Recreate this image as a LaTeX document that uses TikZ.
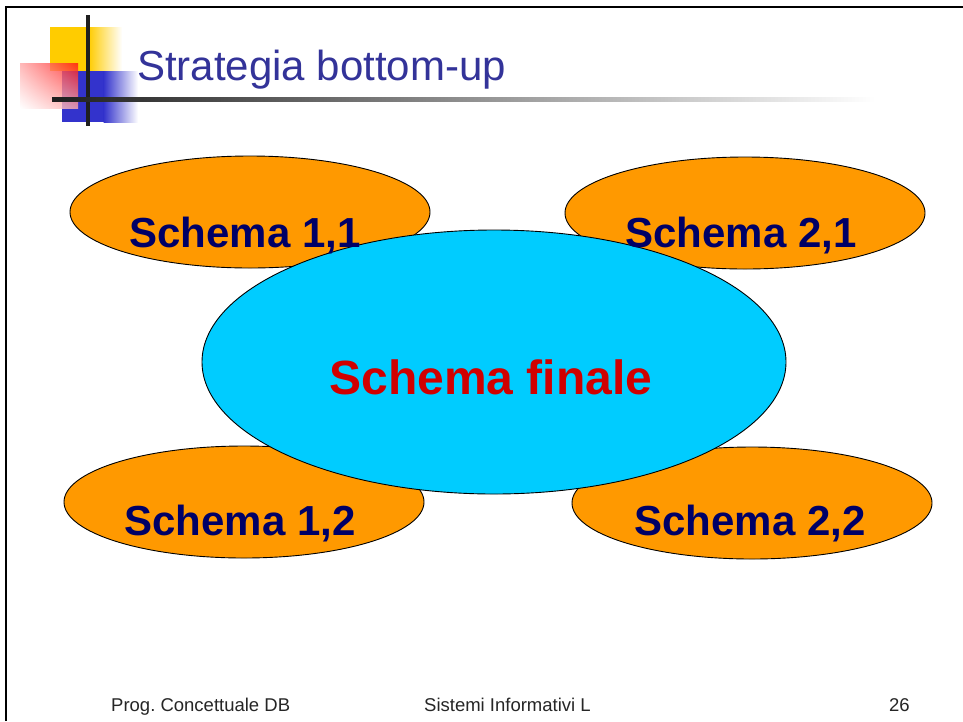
\documentclass[tikz,border=0pt]{standalone}
\usepackage{fontspec}
\setmainfont{Liberation Sans}
\usetikzlibrary{shapes.geometric,shadings}
\definecolor{orng}{HTML}{FF9900}
\definecolor{cyanf}{HTML}{00CCFF}
\definecolor{navy}{HTML}{000066}
\definecolor{redt}{HTML}{D00000}
\definecolor{titleblue}{HTML}{333399}
\definecolor{logoyellow}{HTML}{FFCC00}
\definecolor{logoblue}{HTML}{3333CC}
\definecolor{logored}{HTML}{FF1010}
\definecolor{logopink}{HTML}{FFA8A8}
\frenchspacing
\tikzset{
  sub/.style={ellipse, draw=black, line width=0.9pt, fill=orng, minimum width=360pt, minimum height=112pt, inner sep=0pt},
  fin/.style={ellipse, draw=black, line width=0.9pt, fill=cyanf, minimum width=584pt, minimum height=264pt, inner sep=0pt},
  subtext/.style={anchor=base, inner sep=0pt, text=navy, font=\fontsize{42}{50}\selectfont\bfseries},
  fintext/.style={anchor=base, inner sep=0pt, text=redt, font=\fontsize{48}{56}\selectfont\bfseries},
  foot/.style={anchor=base west, inner sep=0pt, text=black!85, font=\fontsize{18.5}{22}\selectfont},
}
\begin{document}
\begin{tikzpicture}[x=1pt,y=-1pt]
\useasboundingbox (0,0) rectangle (963,721);
\fill[white] (0,0) rectangle (963,721);
% frame
\draw[line width=2pt] (6,721) -- (6,7) -- (963,7);
% logo
\fill[logoyellow] (50,27) rectangle (89,71);
\shade[left color=logoyellow, right color=white] (88.5,27) rectangle (122,71);
\fill[logoblue] (62,71) rectangle (104,122);
\shade[left color=logoblue, right color=white] (103.5,71) rectangle (138,122);
\shade[opacity=0.8, upper right=logored, upper left=logopink, lower right=logopink, lower left=white] (20,63) rectangle (78,108);
\fill[black!88] (86,15) rectangle (90,126);
\shade[left color=black!88, middle color=black!40, right color=white] (52,97) rectangle (875,101);
% title
\node[anchor=base west, inner sep=0pt, text=titleblue, font=\fontsize{42}{50}\selectfont] (title) at (137,80) {Strategia bottom-up};
% ellipses
\node[sub] (e11) at (250,212) {};
\node[sub] (e21) at (745,213) {};
\node[sub] (e12) at (244,502) {};
\node[sub] (e22) at (752,503) {};
\node[fin] (ef) at (494,362) {};
% texts
\node[subtext] (t11) at (245,247) {Schema 1,1};
\node[subtext] (t21) at (741,247) {Schema 2,1};
\node[subtext] (t12) at (240,535) {Schema 1,2};
\node[subtext] (t22) at (750,535) {Schema 2,2};
\node[fintext] (tf) at (491,394) {Schema finale};
% footer
\node[foot] (f1) at (111,711) {Prog. Concettuale DB};
\node[foot] (f2) at (424,711) {Sistemi Informativi L};
\node[foot] (f3) at (889,711) {26};
\end{tikzpicture}
\end{document}
